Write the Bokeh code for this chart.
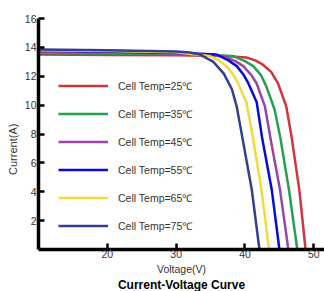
from bokeh.plotting import figure
from bokeh.models import Legend, LegendItem, FixedTicker, Range1d, Title
from bokeh.embed import file_html
from bokeh.resources import INLINE

# Data (Voltage V, Current A)
temps = ["Cell Temp=25℃", "Cell Temp=35℃", "Cell Temp=45℃",
         "Cell Temp=55℃", "Cell Temp=65℃", "Cell Temp=75℃"]
colors = ["#d0343c", "#24a050", "#9a44a8", "#0a0ad8", "#f5d83c", "#343f8c"]

v25 = [10, 20, 30, 37.0, 40.2, 41.5, 42.6, 43.8, 44.8, 46.0, 46.8, 47.9, 48.8]
i25 = [13.5, 13.48, 13.45, 13.4, 13.3, 13.1, 12.8, 12.3, 11.5, 9.9, 7.7, 4.1, 0.0]

v35 = [10, 20, 30, 38.3, 40.0, 41.2, 42.3, 43.1, 44.3, 45.15, 46.4, 47.6]
i35 = [13.6, 13.57, 13.52, 13.4, 13.05, 12.7, 12.1, 11.3, 9.7, 7.7, 4.1, 0.0]

v45 = [10, 20, 30, 36.9, 38.6, 39.75, 40.9, 41.7, 42.9, 43.7, 45.1, 46.3]
i45 = [13.7, 13.65, 13.58, 13.4, 13.05, 12.7, 12.1, 11.5, 9.9, 7.7, 4.1, 0.0]

v55 = [10, 20, 30, 35.9, 37.6, 38.8, 39.8, 40.5, 41.7, 42.5, 43.9, 45.0]
i55 = [13.78, 13.72, 13.62, 13.5, 13.1, 12.7, 12.1, 11.5, 10.2, 7.7, 4.1, 0.0]

v65 = [10, 20, 30, 34.9, 36.2, 37.3, 38.3, 39.0, 40.2, 41.1, 42.4, 43.5]
i65 = [13.8, 13.75, 13.66, 13.4, 13.1, 12.7, 12.1, 11.5, 10.2, 7.9, 4.1, 0.0]

v75 = [10, 20, 30, 32.0, 33.5, 35.4, 36.9, 38.1, 38.8, 39.6, 41.0, 42.1]
i75 = [13.85, 13.8, 13.72, 13.65, 13.5, 13.0, 12.2, 11.1, 9.9, 7.8, 4.1, 0.0]

voltages = [v25, v35, v45, v55, v65, v75]
currents = [i25, i35, i45, i55, i65, i75]

x_ticks = [20, 30, 40, 50]
y_ticks = [2, 4, 6, 8, 10, 12, 14, 16]

FONT = "Liberation Sans"
NBSP = "\u00a0"

p = figure(width=324, height=291, output_backend="svg", toolbar_location=None,
           x_range=Range1d(10, 51.55), y_range=Range1d(0, 16),
           min_border_left=38, min_border_right=0, min_border_top=18,
           min_border_bottom=42)
p.outline_line_color = None
p.grid.visible = False
p.background_fill_color = "white"
p.border_fill_color = "white"

for ax in (p.xaxis[0], p.yaxis[0]):
    ax.axis_line_width = 3.5
    ax.axis_line_color = "black"
    ax.major_tick_line_width = 2.5
    ax.major_tick_line_color = "black"
    ax.major_tick_in = 6
    ax.major_tick_out = 0
    ax.minor_tick_line_color = None
    ax.major_label_text_font = FONT
    ax.major_label_text_font_size = "10.5px"
    ax.major_label_text_color = "#333333"
    ax.major_label_text_line_height = 1.0
    ax.axis_label_text_font = FONT
    ax.axis_label_text_font_style = "normal"
    ax.axis_label_text_color = "#333333"
    ax.axis_label_text_line_height = 1.0

p.xaxis.ticker = FixedTicker(ticks=x_ticks)
p.yaxis.ticker = FixedTicker(ticks=y_ticks)

p.xaxis.major_label_standoff = 0
p.yaxis.major_label_standoff = 2

p.xaxis.axis_label = "Voltage(V)"
p.xaxis.axis_label_text_font_size = "10.5px"
p.xaxis.axis_label_standoff = 2

p.yaxis.axis_label = "Current(A)" + NBSP * 10
p.yaxis.axis_label_text_font_size = "11px"
p.yaxis.axis_label_standoff = 3

title = Title(text="Current-Voltage Curve", align="center",
              text_font=FONT, text_font_size="12px", text_font_style="bold",
              text_color="black", standoff=-3, text_line_height=1.0)
p.add_layout(title, "below")

items = []
for name, col, vs, cs in zip(temps, colors, voltages, currents):
    r = p.line(vs, cs, line_color=col, line_width=2.5)
    items.append(LegendItem(label=name, renderers=[r]))

legend = Legend(items=items, location=(20, 16), glyph_width=50, glyph_height=15,
                label_height=15, spacing=13, label_standoff=10, padding=0, margin=0,
                border_line_alpha=0, background_fill_alpha=0,
                label_text_font=FONT, label_text_font_size="10.5px",
                label_text_color="#333333")
p.add_layout(legend, "center")

open("out.html", "w").write(file_html(p, INLINE))
